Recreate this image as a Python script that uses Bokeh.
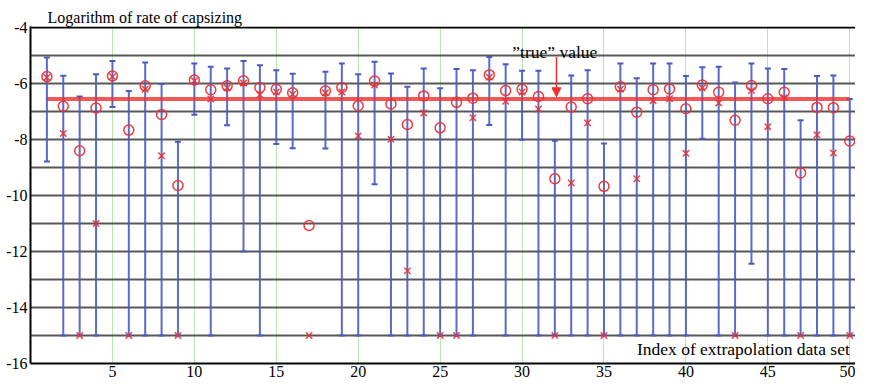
from bokeh.plotting import figure
from bokeh.models import (Range1d, FixedTicker, Whisker, TeeHead, Label, Arrow,
                          NormalHead, ColumnDataSource, Span, PrintfTickFormatter)
from bokeh.embed import file_html
from bokeh.resources import INLINE

# ---------------- data ----------------
index = list(range(1, 51))
circle_est = [-5.75, -6.81, -8.40, -6.87, -5.73, -7.66, -6.08, -7.10, -9.64, -5.87,
              -6.22, -6.08, -5.90, -6.14, -6.20, -6.33, -11.07, -6.26, -6.14, -6.79,
              -5.91, -6.73, -7.46, -6.44, -7.58, -6.67, -6.52, -5.69, -6.25, -6.20,
              -6.46, -9.40, -6.84, -6.54, -9.67, -6.11, -7.02, -6.22, -6.19, -6.90,
              -6.05, -6.31, -7.31, -6.07, -6.54, -6.31, -9.19, -6.85, -6.86, -8.05]
cross_est = [-5.78, -7.78, -15.0, -11.0, -5.75, -15.0, -6.20, -8.58, -15.0, -5.90,
             -6.55, -6.15, -5.98, -6.40, -6.30, -6.38, -15.0, -6.33, -6.30, -7.87,
             -6.05, -7.99, -12.69, -7.05, -15.0, -15.0, -7.22, -5.77, -6.63, -6.30,
             -6.91, -15.0, -9.55, -7.40, -15.0, -6.20, -9.40, -6.61, -6.54, -8.49,
             -6.15, -6.69, -15.0, -6.25, -7.54, -6.50, -15.0, -7.83, -8.48, -15.0]
upper = [-5.07, -5.72, -6.46, -5.67, -5.19, -6.26, -5.25, -6.01, -8.08, -5.28,
         -5.40, -5.46, -5.19, -5.34, -5.52, -5.65, None, -5.58, -5.28, -5.67,
         -5.22, -5.64, -6.11, -5.46, -6.17, -5.48, -5.52, -5.05, -5.31, -5.54,
         -5.54, -8.04, -5.71, -5.52, -8.14, -5.28, -5.81, -5.28, -5.28, -5.73,
         -5.42, -5.40, -5.96, -5.28, -5.46, -5.48, -7.31, -5.73, -5.71, -6.55]
lower = [-8.78, -15.0, -15.0, -15.0, -6.84, -15.0, -15.0, -15.0, -15.0, -7.11,
         -15.0, -7.49, -12.0, -15.0, -8.16, -8.31, None, -8.32, -15.0, -15.0,
         -9.60, -15.0, -15.0, -15.0, -15.0, -15.0, -15.0, -7.48, -15.0, -8.01,
         -15.0, -15.0, -15.0, -15.0, -15.0, -15.0, -15.0, -15.0, -15.0, -15.0,
         -7.97, -15.0, -15.0, -12.44, -15.0, -15.0, -15.0, -15.0, -15.0, -15.0]
true_value = -6.55

y_label_ticks = [-4, -6, -8, -10, -12, -14, -16]
y_grid_ticks = [-15, -14, -13, -12, -11, -10, -9, -8, -7, -6, -5]
x_ticks = [5, 10, 15, 20, 25, 30, 35, 40, 45, 50]

title_text = "Logarithm of rate of capsizing"
x_title_text = "Index of extrapolation data set"
true_text = "\u201dtrue\u201d value"

# annotation anchors (data coordinates)
true_label_x, true_label_y = 32.0, -4.88
arrow_x, arrow_y0 = 32.1, -5.05
x_title_y = -15.47

FONT = "Liberation Serif"
RED = "#ee3030"
BLUE = "#4a5ac4"

# ---------------- figure ----------------
p = figure(width=855, height=379, output_backend="svg", toolbar_location=None,
           x_range=Range1d(0, 50.35), y_range=Range1d(-16, -3.96),
           min_border_left=30, min_border_right=0, min_border_top=26,
           min_border_bottom=0)
p.outline_line_color = None
p.background_fill_color = "white"

p.title.text = title_text
p.title.text_font = FONT
p.title.text_font_style = "normal"
p.title.text_font_size = "16px"
p.title.text_color = "black"
p.title.align = "left"
p.title.offset = 17
p.title.standoff = 2

# axes
for ax in (p.xaxis[0], p.yaxis[0]):
    ax.axis_line_color = "black"
    ax.axis_line_width = 2
    ax.major_tick_line_color = None
    ax.minor_tick_line_color = None
    ax.major_tick_out = 0
    ax.major_tick_in = 0
    ax.minor_tick_out = 0
    ax.minor_tick_in = 0
    ax.major_label_text_font = FONT
    ax.major_label_text_font_size = "16px"
    ax.major_label_text_color = "black"
    ax.formatter = PrintfTickFormatter(format="%d")
p.xaxis.ticker = FixedTicker(ticks=x_ticks)
p.yaxis.ticker = FixedTicker(ticks=y_label_ticks)
p.xaxis.major_label_standoff = 2
p.yaxis.major_label_standoff = 3

# grids
p.ygrid.ticker = FixedTicker(ticks=y_grid_ticks)
p.ygrid.grid_line_color = "#454545"
p.ygrid.grid_line_width = 2.2
p.ygrid.grid_line_alpha = 0.9
p.xgrid.ticker = FixedTicker(ticks=x_ticks)
p.xgrid.grid_line_color = "#b8e6b0"
p.xgrid.grid_line_width = 1

# top frame line
p.add_layout(Span(location=-4, dimension="width", line_color="black", line_width=2))

# error bars
bar_src = ColumnDataSource(dict(
    x=[i for i, u in zip(index, upper) if u is not None],
    up=[u for u in upper if u is not None],
    lo=[l for l in lower if l is not None],
))
p.add_layout(Whisker(source=bar_src, base="x", upper="up", lower="lo",
                     line_color=BLUE, line_width=2, line_alpha=0.9,
                     upper_head=TeeHead(size=6, line_color=BLUE, line_width=2),
                     lower_head=TeeHead(size=6, line_color=BLUE, line_width=2)))

# true value line
p.line(x=[index[0], index[-1]], y=[true_value, true_value], line_color=RED,
       line_width=4, line_alpha=0.8)

# estimates
p.scatter(x=index, y=cross_est, marker="x", size=9, line_color=RED, line_width=1.5,
          line_alpha=0.9)
p.scatter(x=index, y=circle_est, marker="circle", size=10, line_color=RED,
          fill_color=None, line_width=1.5, line_alpha=0.95)

# annotations
p.add_layout(Arrow(x_start=arrow_x, y_start=arrow_y0, x_end=arrow_x, y_end=true_value + 0.08,
                   line_color=RED, line_width=1.5,
                   end=NormalHead(size=9, line_color=RED, fill_color=RED, line_width=1)))
p.add_layout(Label(x=true_label_x, y=true_label_y, text=true_text, text_align="center",
                   text_baseline="alphabetic", text_font=FONT, text_font_size="17.5px",
                   text_color="black"))
p.add_layout(Label(x=index[-1], y=x_title_y, text=x_title_text, text_align="right",
                   text_baseline="middle", text_font=FONT, text_font_size="17.5px",
                   text_color="black"))

open("out.html", "w").write(file_html(p, INLINE))
